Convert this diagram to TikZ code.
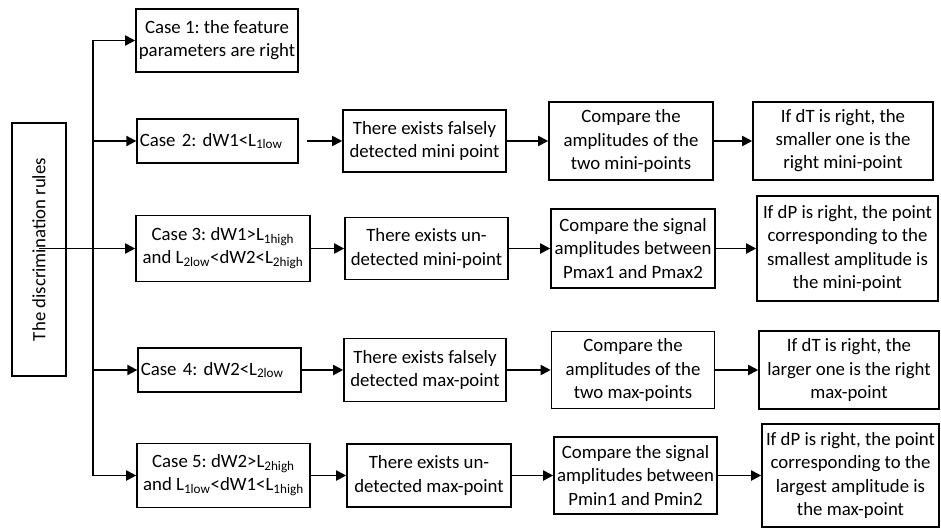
\documentclass[tikz,border=0pt]{standalone}
\usepackage{fontspec}
\setmainfont{Carlito}
\frenchspacing
\usetikzlibrary{arrows.meta}
\tikzset{
  dr box/.style={
    draw=black,line width=1.2pt,inner sep=1pt,align=center,
    font=\fontsize{14.1}{17.3}\selectfont
  },
  dr case/.style={dr box,align=left,inner xsep=2pt},
  dr arrow/.style={black,line width=1.4pt,-{Triangle[length=7.5pt,width=7.5pt]}},
  dr line/.style={black,line width=1.4pt}
}

\begin{document}
\begin{tikzpicture}[x=0.75pt,y=-0.75pt]
  \useasboundingbox (0,0) rectangle (941,528);
  \node[dr box,rotate=90,minimum width=189.75pt,minimum height=40.5pt] (rule) at (39,249.5) {The discrimination rules};
  \node[dr box,minimum width=121.5pt,minimum height=47.25pt] (c1) at (217,40.5) {Case 1: the feature\\parameters are right};
  \node[dr case,text width=116.5pt,minimum height=33pt] (c2) at (217.5,141) {Case 2: dW1<L\textsubscript{1low}};
  \node[dr box,minimum width=130.5pt,minimum height=49.5pt] (c3) at (223,248.5) {Case 3: dW1>L\textsubscript{1high}\\and L\textsubscript{2low}<dW2<L\textsubscript{2high}};
  \node[dr case,text width=118pt,minimum height=33pt] (c4) at (219.5,370) {Case 4: dW2<L\textsubscript{2low}};
  \node[dr box,minimum width=129.75pt,minimum height=48pt] (c5) at (223.5,475.5) {Case 5: dW2>L\textsubscript{2high}\\and L\textsubscript{1low}<dW1<L\textsubscript{1high}};
  \node[dr box,minimum width=122.25pt,minimum height=46.5pt] (d2) at (424.5,141) {There exists falsely\\detected mini point};
  \node[dr box,minimum width=123pt,minimum height=58.5pt] (m2) at (631,141) {Compare the\\amplitudes of the\\two mini-points};
  \node[dr box,minimum width=135pt,minimum height=58.5pt] (r2) at (843,141) {If dT is right, the\\smaller one is the\\right mini-point};
  \node[dr box,minimum width=122.25pt,minimum height=46.5pt] (d3) at (426.5,248.5) {There exists un-\\detected mini-point};
  \node[dr box,inner xsep=0pt,minimum width=123pt,minimum height=59.25pt] (m3) at (633,248.5) {Compare the signal\\amplitudes between\\Pmax1 and Pmax2};
  \node[dr box,inner xsep=0pt,minimum width=135.75pt,minimum height=78.75pt] (r3) at (847.5,248.5) {If dP is right, the point\\corresponding to the\\smallest amplitude is\\the mini-point};
  \node[dr box,minimum width=121.5pt,minimum height=47.25pt] (d4) at (425,370) {There exists falsely\\detected max-point};
  \node[dr box,minimum width=122.25pt,minimum height=57.75pt] (m4) at (633,370) {Compare the\\amplitudes of the\\two max-points};
  \node[dr box,inner xsep=0pt,minimum width=135pt,minimum height=58.5pt] (r4) at (849,370) {If dT is right, the\\larger one is the right\\max-point};
  \node[dr box,minimum width=123pt,minimum height=47.25pt] (d5) at (429,475.5) {There exists un-\\detected max-point};
  \node[dr box,inner xsep=0pt,minimum width=122.25pt,minimum height=57.75pt] (m5) at (635.5,475.5) {Compare the signal\\amplitudes between\\Pmin1 and Pmin2};
  \node[dr box,inner xsep=0pt,minimum width=132.75pt,minimum height=77.25pt] (r5) at (850.5,475.5) {If dP is right, the point\\corresponding to the\\largest amplitude is\\the max-point};
  \coordinate (tk) at (93,248.5);
  \draw[dr arrow] (rule.east |- c3.west) -- (c3.west);
  \draw[dr arrow] (tk) |- (c1.west);
  \draw[dr arrow] (tk) |- (c5.west);
  \draw[dr arrow] (tk |- c2.west) -- (c2.west);
  \draw[dr arrow] (tk |- c4.west) -- (c4.west);
  \draw[dr arrow,shorten <=6pt] (c2) -- (d2);
  \draw[dr arrow] (d2) -- (m2);
  \draw[dr arrow] (m2) -- (r2);
  \draw[dr arrow] (c3) -- (d3);
  \draw[dr arrow] (d3) -- (m3);
  \draw[dr arrow] (m3) -- (r3);
  \draw[dr arrow] (c4) -- (d4);
  \draw[dr arrow] (d4) -- (m4);
  \draw[dr arrow] (m4) -- (r4);
  \draw[dr arrow] (c5) -- (d5);
  \draw[dr arrow] (d5) -- (m5);
  \draw[dr arrow] (m5) -- (r5);
\end{tikzpicture}
\end{document}
